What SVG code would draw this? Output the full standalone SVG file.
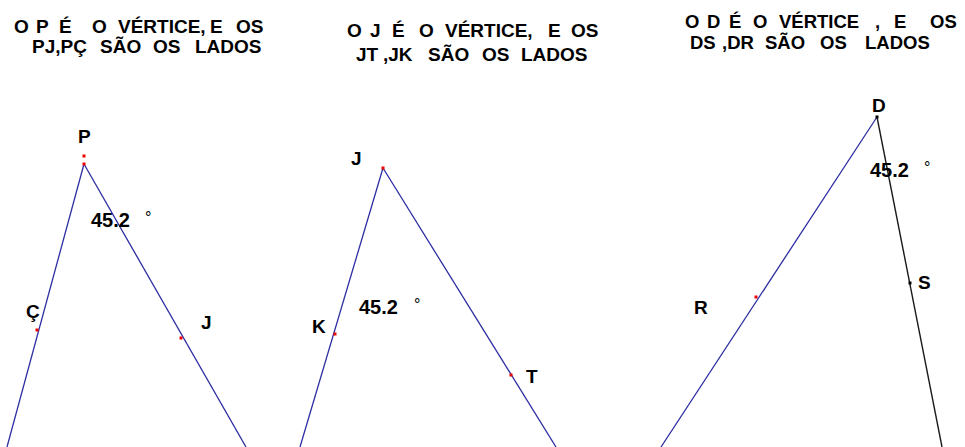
<svg xmlns="http://www.w3.org/2000/svg" width="965" height="447" viewBox="0 0 965 447">
<style>
  .t{font-family:"Liberation Sans",Arial,sans-serif;font-weight:bold;font-size:19px;fill:#000}
  .t3{font-size:18.5px}
  .lb{font-family:"Liberation Sans",Arial,sans-serif;font-weight:bold;font-size:19px;fill:#000}
  .ang{font-family:"Liberation Sans",Arial,sans-serif;font-weight:bold;font-size:20px;fill:#000}
  .deg{font-family:"Liberation Sans",Arial,sans-serif;font-weight:normal;font-size:16px;fill:#000}
  .ln{stroke:#2e2ea3;stroke-width:1.3;fill:none}
  .lk{stroke:#1a1a1a;stroke-width:1.4;fill:none}
  .pr{fill:#ee0000}
  .pk{fill:#000}
</style>
<rect width="965" height="447" fill="#fff"/>

<g id="title-P">
  <text class="t"><tspan x="14" y="33">O</tspan><tspan x="36" y="33">P</tspan><tspan x="59" y="33">É</tspan><tspan x="92" y="33">O</tspan><tspan x="118" y="33">VÉRTICE,</tspan><tspan x="210" y="33">E</tspan><tspan x="236" y="33">OS</tspan><tspan x="32" y="53">PJ,PÇ</tspan><tspan x="100" y="53">SÃO</tspan><tspan x="153" y="53">OS</tspan><tspan x="195" y="53">LADOS</tspan></text>
</g>
<g id="title-J">
  <text class="t"><tspan x="347" y="37">O</tspan><tspan x="370" y="37">J</tspan><tspan x="392" y="37">É</tspan><tspan x="419" y="37">O</tspan><tspan x="445" y="37">VÉRTICE,</tspan><tspan x="548" y="37">E</tspan><tspan x="571" y="37">OS</tspan><tspan x="356" y="61">JT</tspan><tspan x="383" y="61">,JK</tspan><tspan x="428" y="61">SÃO</tspan><tspan x="482" y="61">OS</tspan><tspan x="521" y="61">LADOS</tspan></text>
</g>
<g id="title-D">
  <text class="t t3"><tspan x="685" y="27.5">O</tspan><tspan x="707" y="27.5">D</tspan><tspan x="729" y="27.5">É</tspan><tspan x="753" y="27.5">O</tspan><tspan x="779" y="27.5">VÉRTICE</tspan><tspan x="875" y="27.5">,</tspan><tspan x="894" y="27.5">E</tspan><tspan x="930" y="27.5">OS</tspan><tspan x="690" y="48.5">DS</tspan><tspan x="722" y="48.5">,DR</tspan><tspan x="765" y="48.5">SÃO</tspan><tspan x="820" y="48.5">OS</tspan><tspan x="865" y="48.5">LADOS</tspan></text>
</g>

<g id="connectors">
  <line class="ln" x1="84" y1="164" x2="7" y2="447"/>
  <line class="ln" x1="84" y1="164" x2="246" y2="447"/>
  <line class="ln" x1="383" y1="168" x2="300" y2="447"/>
  <line class="ln" x1="383" y1="168" x2="556" y2="447"/>
  <line class="ln" x1="877" y1="117" x2="661" y2="447"/>
  <line class="lk" x1="877" y1="117" x2="942" y2="447"/>
</g>

<g id="angle-P">
  <rect class="pr" x="82.5" y="154.5" width="3" height="3"/>
  <rect class="pr" x="82.5" y="162.5" width="3" height="3"/>
  <text class="lb" x="78" y="143">P</text>
  <text class="ang" x="91" y="227">45.2<tspan class="deg" x="145" y="223">°</tspan></text>
</g>
<g id="point-C">
  <rect class="pr" x="35.5" y="328.5" width="3" height="3"/>
  <text class="lb" x="26" y="318">Ç</text>
</g>
<g id="point-J1">
  <rect class="pr" x="179.5" y="336.5" width="3" height="3"/>
  <text class="lb" x="201" y="329">J</text>
</g>

<g id="angle-J">
  <rect class="pr" x="381.5" y="166.5" width="3" height="3"/>
  <text class="lb" x="351" y="165">J</text>
  <text class="ang" x="359" y="314">45.2<tspan class="deg" x="414" y="310">°</tspan></text>
</g>
<g id="point-K">
  <rect class="pr" x="333.5" y="332.5" width="3" height="3"/>
  <text class="lb" x="312" y="333">K</text>
</g>
<g id="point-T">
  <rect class="pr" x="509.5" y="373.5" width="3" height="3"/>
  <text class="lb" x="526" y="383">T</text>
</g>

<g id="angle-D">
  <rect class="pk" x="875.5" y="115.5" width="3" height="3"/>
  <text class="lb" x="872" y="112">D</text>
  <text class="ang" x="870" y="177">45.2<tspan class="deg" x="924" y="173">°</tspan></text>
</g>
<g id="point-S">
  <rect class="pk" x="908.5" y="281.5" width="3" height="3"/>
  <text class="lb" x="918" y="289">S</text>
</g>
<g id="point-R">
  <rect class="pr" x="754.5" y="295.5" width="3" height="3"/>
  <text class="lb" x="694" y="314">R</text>
</g>
</svg>
